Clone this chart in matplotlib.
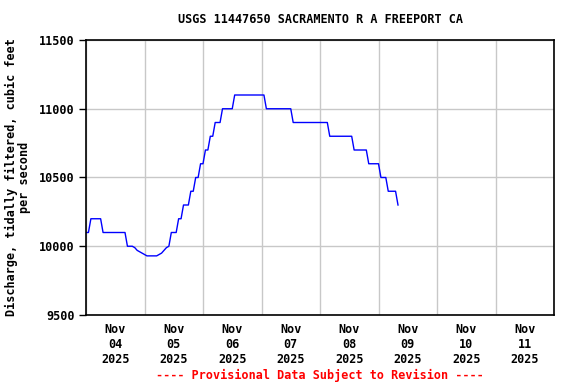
import matplotlib
matplotlib.use("Agg")
import matplotlib.pyplot as plt
import datetime as dt

title = "USGS 11447650 SACRAMENTO R A FREEPORT CA"
ylabel = "Discharge, tidally filtered, cubic feet\nper second"
footer = "---- Provisional Data Subject to Revision ----"
start = dt.datetime(2025, 11, 4, 0, 0)
# hourly discharge values starting 2025-11-04 00:00
discharge = [
    10100, 10100, 10200, 10200, 10200, 10200, 10200, 10100, 10100, 10100,
    10100, 10100, 10100, 10100, 10100, 10100, 10100, 10000, 10000, 10000,
    9990, 9970, 9960, 9950, 9940, 9930, 9930, 9930, 9930, 9930,
    9940, 9950, 9970, 9990, 10000, 10100, 10100, 10100, 10200, 10200,
    10300, 10300, 10300, 10400, 10400, 10500, 10500, 10600, 10600, 10700,
    10700, 10800, 10800, 10900, 10900, 10900, 11000, 11000, 11000, 11000,
    11000, 11100, 11100, 11100, 11100, 11100, 11100, 11100, 11100, 11100,
    11100, 11100, 11100, 11100, 11000, 11000, 11000, 11000, 11000, 11000,
    11000, 11000, 11000, 11000, 11000, 10900, 10900, 10900, 10900, 10900,
    10900, 10900, 10900, 10900, 10900, 10900, 10900, 10900, 10900, 10900,
    10800, 10800, 10800, 10800, 10800, 10800, 10800, 10800, 10800, 10800,
    10700, 10700, 10700, 10700, 10700, 10700, 10600, 10600, 10600, 10600,
    10600, 10500, 10500, 10500, 10400, 10400, 10400, 10400, 10300,
]
times = [start + dt.timedelta(hours=i) for i in range(len(discharge))]
day_labels = ["Nov\n04\n2025", "Nov\n05\n2025", "Nov\n06\n2025", "Nov\n07\n2025",
              "Nov\n08\n2025", "Nov\n09\n2025", "Nov\n10\n2025", "Nov\n11\n2025"]
y_ticks = [9500, 10000, 10500, 11000, 11500]

font = "DejaVu Sans Mono"
fs = 8.5

fig = plt.figure(figsize=(5.76, 3.84), dpi=100)
ax = fig.add_axes([86/576, 1-315/384, (554-86)/576, (315-40)/384])
ax.plot(times, discharge, color="#0000ff", lw=1.0)

ax.set_xlim(start, start + dt.timedelta(days=8))
ax.set_ylim(9500, 11500)

major = [start + dt.timedelta(days=i) for i in range(9)]
minor = [start + dt.timedelta(days=i, hours=12) for i in range(8)]
ax.set_xticks(major)
ax.set_xticklabels([""] * len(major))
ax.set_xticks(minor, minor=True)
ax.set_xticklabels(day_labels, minor=True, fontfamily=font, fontweight="bold",
                   fontsize=fs, linespacing=1.2)
ax.tick_params(axis="x", which="both", length=0, pad=6)
ax.set_yticks(y_ticks)
ax.set_yticklabels([str(v) for v in y_ticks], fontfamily=font, fontweight="bold", fontsize=fs)
ax.tick_params(axis="y", length=5, width=1, pad=3, color="black")

ax.grid(True, which="major", color="#c8c8c8", lw=1)
ax.set_axisbelow(True)
for s in ax.spines.values():
    s.set_linewidth(1.2)
    s.set_color("black")

ax.set_title(title, fontfamily=font, fontweight="bold", fontsize=fs, pad=12)
ax.set_ylabel(ylabel, fontfamily=font, fontweight="bold", fontsize=fs, labelpad=6,
              linespacing=1.0)

fig.text(320/576, 1-375/384, footer, color="#ff0000", fontfamily=font,
         fontweight="bold", fontsize=fs, ha="center", va="center")

fig.savefig("out.png", dpi=100)
